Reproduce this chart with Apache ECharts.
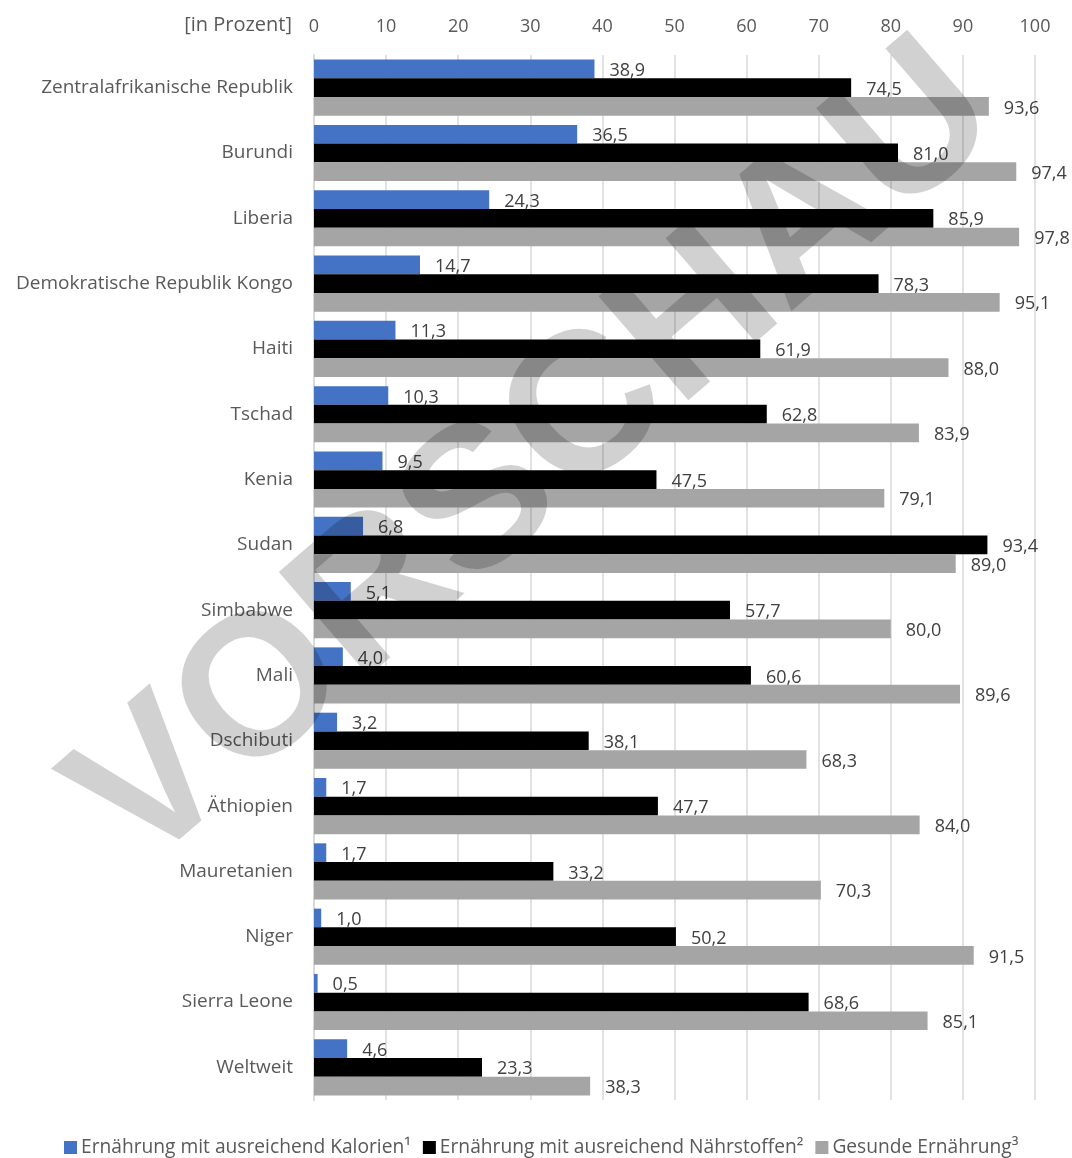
<!DOCTYPE html>
<html>
<head>
<meta charset="utf-8">
<script src="https://cdn.jsdelivr.net/npm/echarts@6/dist/echarts.min.js"></script>
<style>
  html, body { margin: 0; padding: 0; background: #fff; }
  #chart { width: 1072px; height: 1158px; }
</style>
</head>
<body>
<div id="chart"></div>
<script>
// Länder (von oben nach unten)
const categories = [
  'Zentralafrikanische Republik', 'Burundi', 'Liberia', 'Demokratische Republik Kongo',
  'Haiti', 'Tschad', 'Kenia', 'Sudan', 'Simbabwe', 'Mali', 'Dschibuti', 'Äthiopien',
  'Mauretanien', 'Niger', 'Sierra Leone', 'Weltweit'
];

// Werte in Prozent
const kalorien = [38.9, 36.5, 24.3, 14.7, 11.3, 10.3, 9.5, 6.8, 5.1, 4.0, 3.2, 1.7, 1.7, 1.0, 0.5, 4.6];
const naehrstoffe = [74.5, 81.0, 85.9, 78.3, 61.9, 62.8, 47.5, 93.4, 57.7, 60.6, 38.1, 47.7, 33.2, 50.2, 68.6, 23.3];
const gesund = [93.6, 97.4, 97.8, 95.1, 88.0, 83.9, 79.1, 89.0, 80.0, 89.6, 68.3, 84.0, 70.3, 91.5, 85.1, 38.3];

const seriesNames = [
  'Ernährung mit ausreichend Kalorien¹',
  'Ernährung mit ausreichend Nährstoffen²',
  'Gesunde Ernährung³'
];
const xTicks = [0, 10, 20, 30, 40, 50, 60, 70, 80, 90, 100];

const FONT = '"Open Sans", sans-serif';

const chart = echarts.init(document.getElementById('chart'));

// Datenlabel mit deutschem Dezimalkomma
const makeSeries = (name, data, color) => ({
  name: name,
  type: 'bar',
  data: data,
  barGap: '0%',
  barCategoryGap: '14%',
  itemStyle: { color: color },
  label: {
    show: true,
    position: 'right',
    distance: 15,
    offset: [0, 2],
    color: '#404040',
    fontFamily: FONT,
    fontSize: 18,
    formatter: (p) => p.value.toFixed(1).replace('.', ',')
  }
});

const option = {
  backgroundColor: '#ffffff',
  animation: false,
  grid: { left: 314, right: 37, top: 55, bottom: 58, containLabel: false },
  xAxis: {
    type: 'value',
    position: 'top',
    min: xTicks[0],
    max: xTicks[xTicks.length - 1],
    interval: 10,
    axisLine: { show: false },
    axisTick: { show: false },
    axisLabel: { color: '#595959', fontFamily: FONT, fontSize: 18, margin: 19 },
    splitLine: { show: true, lineStyle: { color: '#d9d9d9', width: 1.5 } }
  },
  yAxis: {
    type: 'category',
    inverse: true,
    data: categories,
    axisLine: { show: true, lineStyle: { color: '#d9d9d9', width: 2 } },
    axisTick: { show: false },
    axisLabel: { color: '#595959', fontFamily: FONT, fontSize: 19, margin: 21 }
  },
  legend: {
    top: 1133,
    left: 59,
    icon: 'rect',
    itemWidth: 13,
    itemHeight: 13,
    itemGap: 12,
    textStyle: { color: '#595959', fontFamily: FONT, fontSize: 19.2, padding: [0, 0, 0, -1] },
    data: seriesNames
  },
  series: [
    makeSeries(seriesNames[0], kalorien, '#4472c4'),
    makeSeries(seriesNames[1], naehrstoffe, '#000000'),
    makeSeries(seriesNames[2], gesund, '#a5a5a5')
  ],
  graphic: [
    {
      type: 'text',
      x: 292,
      y: 25,
      style: {
        text: '[in Prozent]',
        font: '20px "Open Sans", sans-serif',
        fill: '#595959',
        textAlign: 'right',
        textVerticalAlign: 'middle'
      }
    },
    {
      // Wasserzeichen
      type: 'text',
      x: 537,
      y: 458,
      rotation: 0.712,
      z: 100,
      silent: true,
      style: {
        text: 'VORSCHAU',
        font: 'bold 200px "Liberation Sans", Arial, sans-serif',
        fill: 'rgba(0,0,0,0.18)',
        textAlign: 'center',
        textVerticalAlign: 'middle'
      }
    }
  ]
};

chart.setOption(option);
window.addEventListener('resize', () => chart.resize());
</script>
</body>
</html>
